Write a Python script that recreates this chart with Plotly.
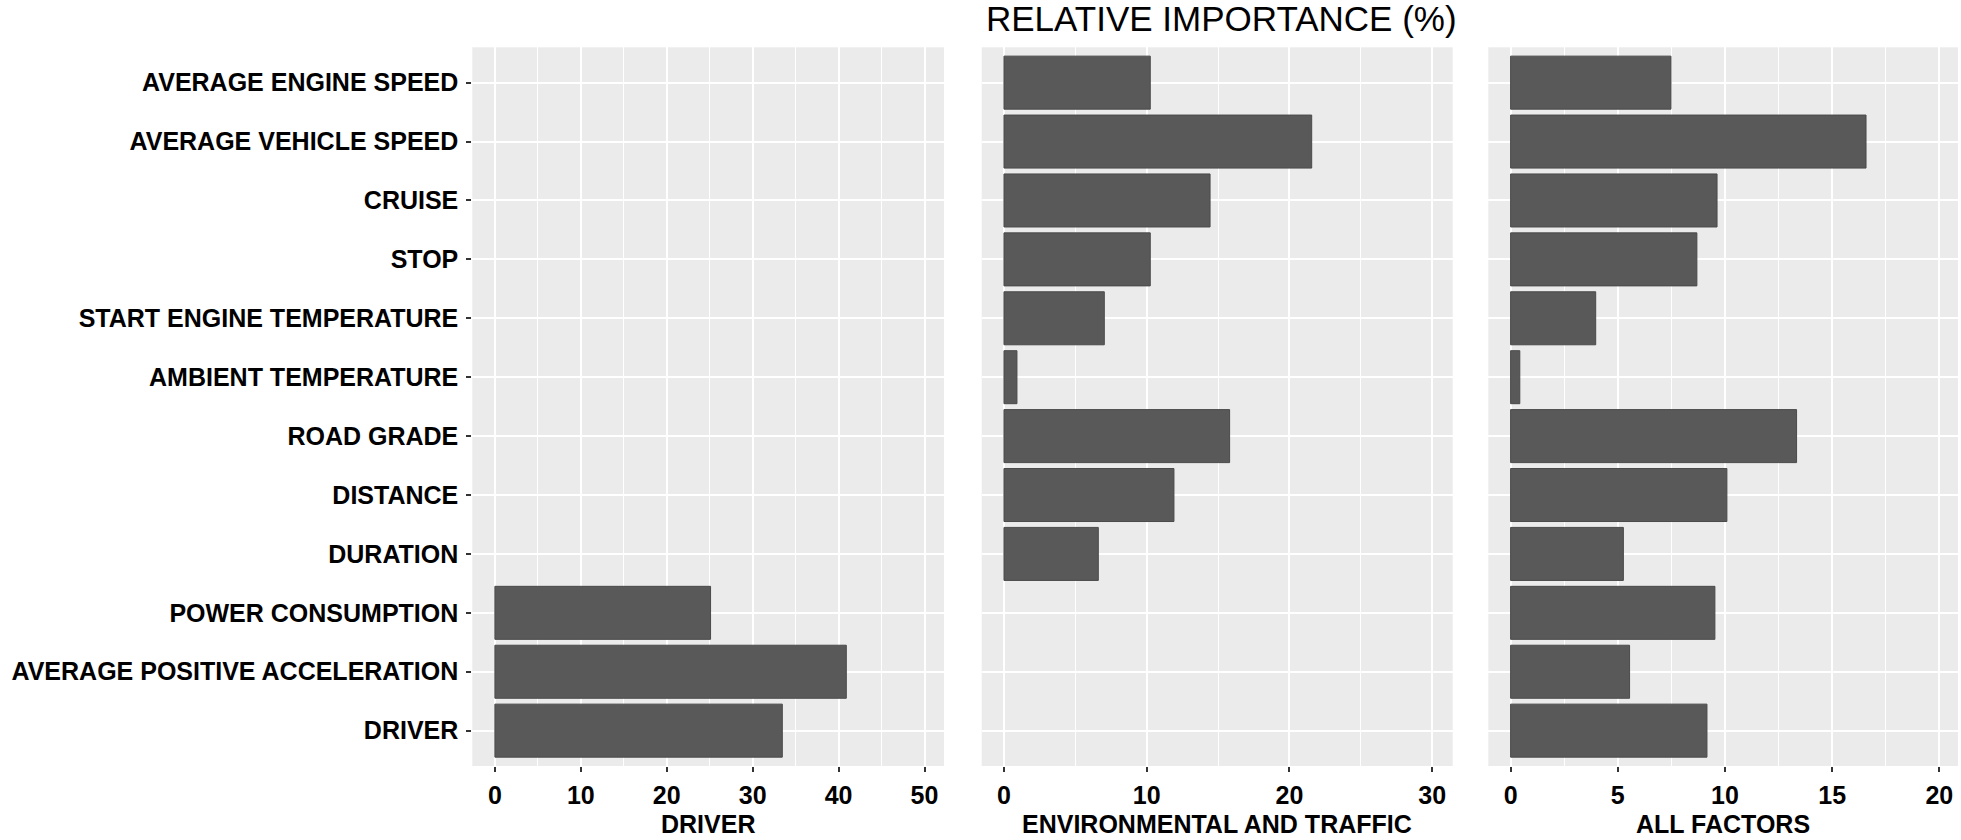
import plotly.graph_objects as go

categories = [
    "AVERAGE ENGINE SPEED", "AVERAGE VEHICLE SPEED", "CRUISE", "STOP",
    "START ENGINE TEMPERATURE", "AMBIENT TEMPERATURE", "ROAD GRADE",
    "DISTANCE", "DURATION", "POWER CONSUMPTION",
    "AVERAGE POSITIVE ACCELERATION", "DRIVER",
]
driver_vals = [None, None, None, None, None, None, None, None, None, 25.1, 40.9, 33.45]
env_vals = [10.25, 21.56, 14.44, 10.25, 7.03, 0.91, 15.81, 11.91, 6.61, None, None, None]
all_vals = [7.48, 16.58, 9.63, 8.69, 3.97, 0.43, 13.34, 10.09, 5.26, 9.53, 5.55, 9.16]

panel_titles = ["DRIVER", "ENVIRONMENTAL AND TRAFFIC", "ALL FACTORS"]
main_title = "RELATIVE IMPORTANCE (%)"

W, H = 1961, 840
FONT = "Liberation Sans, Arial, sans-serif"
BAR = "#595959"
PANEL_BG = "#EBEBEB"

# panel pixel extents
px = [(472.3, 944.0), (981.7, 1452.7), (1488.3, 1958.0)]
top_px, bot_px = 47.3, 766.0
xranges = [[-2.63, 52.27], [-1.56, 31.44], [-1.04, 20.87]]
majors = [10, 10, 5]
minors = [5, 5, 2.5]

fig = go.Figure()
series = [driver_vals, env_vals, all_vals]
for i, vals in enumerate(series):
    fig.add_trace(go.Bar(
        x=vals, y=categories, orientation="h", width=0.9,
        marker=dict(color=BAR, line=dict(color="#4a4a4a", width=1)),
        xaxis="x" if i == 0 else f"x{i+1}",
        yaxis="y" if i == 0 else f"y{i+1}",
        showlegend=False, hoverinfo="x+y",
    ))

ydom = [1 - bot_px / H, 1 - top_px / H]
layout = dict(
    width=W, height=H,
    margin=dict(l=0, r=0, t=0, b=0),
    paper_bgcolor="white", plot_bgcolor=PANEL_BG,
    bargap=0.1,
    font=dict(family=FONT, color="black"),
)
for i in range(3):
    xk = "xaxis" if i == 0 else f"xaxis{i+1}"
    yk = "yaxis" if i == 0 else f"yaxis{i+1}"
    layout[xk] = dict(
        domain=[px[i][0] / W, px[i][1] / W],
        anchor="y" if i == 0 else f"y{i+1}",
        range=xranges[i], tick0=0, dtick=majors[i],
        showgrid=True, gridcolor="white", gridwidth=2,
        minor=dict(tick0=0, dtick=minors[i], showgrid=True, gridcolor="white", gridwidth=1),
        zeroline=False, showline=False,
        ticks="outside", ticklen=5, tickwidth=2, tickcolor="#333333",
        tickfont=dict(family=FONT, size=25, color="black", weight="bold"),
        ticklabelstandoff=2,
        fixedrange=True,
    )
    layout[yk] = dict(
        domain=ydom,
        anchor="x" if i == 0 else f"x{i+1}",
        type="category", categoryorder="array", categoryarray=categories,
        range=[11.6, -0.6],
        showgrid=True, gridcolor="white", gridwidth=2,
        zeroline=False, showline=False,
        showticklabels=(i == 0),
        ticks="outside" if i == 0 else "",
        ticklen=5, tickwidth=2, tickcolor="#333333",
        tickfont=dict(family=FONT, size=25, color="black", weight="bold"),
        ticklabelstandoff=3,
        fixedrange=True,
    )
    if i > 0:
        layout[yk]["matches"] = "y"
fig.update_layout(**layout)

annotations = []
for i, t in enumerate(panel_titles):
    annotations.append(dict(
        text=t, x=(px[i][0] + px[i][1]) / 2 / W, y=1 - 824 / H,
        xref="paper", yref="paper", xanchor="center", yanchor="middle",
        showarrow=False,
        font=dict(family=FONT, size=25, color="black", weight="bold"),
    ))
annotations.append(dict(
    text=main_title, x=1221 / W, y=1 - 18 / H,
    xref="paper", yref="paper", xanchor="center", yanchor="middle",
    showarrow=False,
    font=dict(family=FONT, size=35, color="black"),
))
fig.update_layout(annotations=annotations)

fig.write_html(
    "out.html",
    config={"displayModeBar": False},
    post_script="document.body.style.margin='0';document.body.style.overflow='hidden';",
)
